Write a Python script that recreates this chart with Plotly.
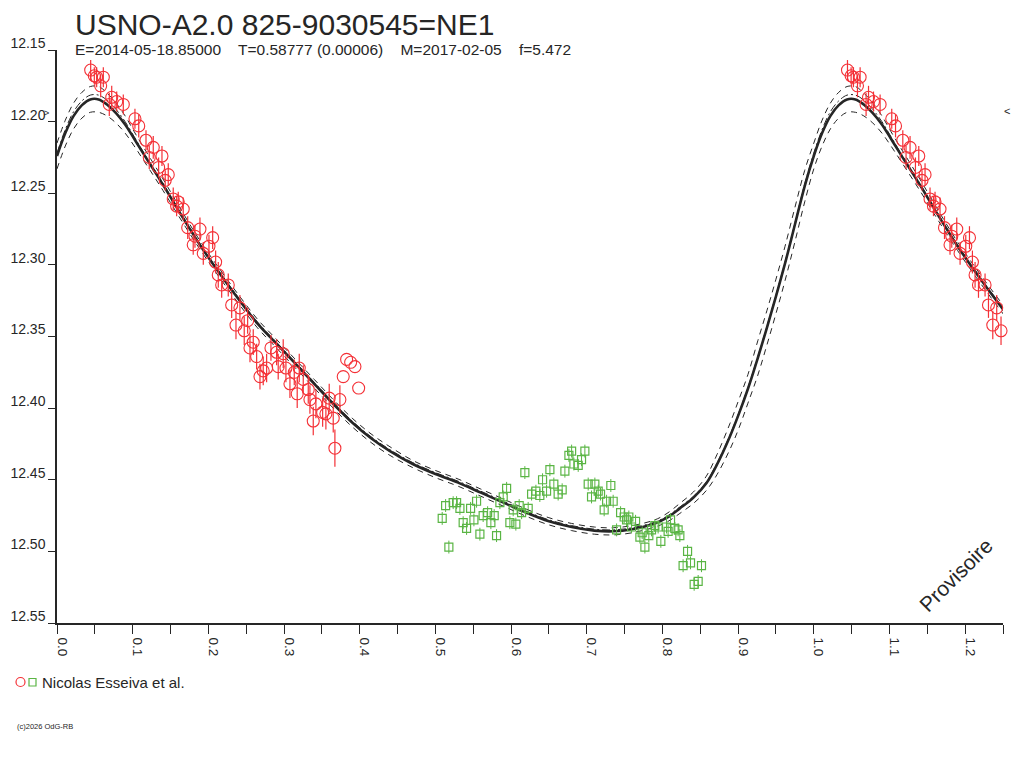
import numpy as np
import plotly.graph_objects as go

# fitted light curve (phase 0..1)
model_phase = [0.000, 0.011, 0.022, 0.033, 0.044, 0.055, 0.066, 0.078, 0.090, 0.102,
               0.115, 0.140, 0.165, 0.190, 0.215, 0.240, 0.265, 0.290, 0.315, 0.340,
               0.365, 0.390, 0.415, 0.440, 0.470, 0.500, 0.530, 0.560, 0.590, 0.620,
               0.650, 0.680, 0.710, 0.735, 0.760, 0.790, 0.806, 0.823, 0.841, 0.858,
               0.872, 0.889, 0.901, 0.913, 0.926, 0.938, 0.950, 0.962, 0.975, 0.988,
               1.000]
model_mag = [12.224, 12.208, 12.196, 12.1885, 12.1845, 12.1845, 12.188, 12.194, 12.202, 12.212,
             12.223, 12.244, 12.266, 12.287, 12.306, 12.324, 12.341, 12.355, 12.369, 12.383,
             12.397, 12.410, 12.421, 12.430, 12.439, 12.446, 12.452, 12.459, 12.466, 12.473,
             12.479, 12.483, 12.4855, 12.486, 12.4845, 12.4805, 12.4765, 12.470, 12.4625, 12.4525,
             12.4395, 12.420, 12.404, 12.3865, 12.365, 12.344, 12.322, 12.299, 12.272, 12.245,
             12.224]
# half width of the dashed envelope around the fit
env_half = [0.009, 0.009, 0.009, 0.009, 0.009, 0.009, 0.008, 0.007, 0.006, 0.005,
            0.0045, 0.004, 0.0035, 0.003, 0.003, 0.003, 0.003, 0.003, 0.003, 0.003,
            0.003, 0.003, 0.003, 0.003, 0.0025, 0.0025, 0.0025, 0.0025, 0.0025, 0.0025,
            0.0025, 0.0025, 0.0025, 0.0025, 0.0025, 0.0025, 0.003, 0.0035, 0.004, 0.005,
            0.007, 0.009, 0.010, 0.010, 0.012, 0.012, 0.012, 0.012, 0.012, 0.011,
            0.009]
# offset of the thin dash-dot fit from the main one
alt_shift = [-0.002, -0.0025, -0.003, -0.003, -0.003, -0.003, -0.003, -0.0025, -0.002, -0.0015,
             -0.001, -0.001, -0.001, -0.001, -0.001, -0.001, -0.001, -0.001, -0.001, -0.001,
             -0.001, -0.001, -0.001, -0.001, -0.001, -0.001, -0.001, -0.001, -0.001, -0.001,
             -0.001, -0.001, -0.001, -0.001, -0.001, -0.001, -0.001, -0.001, -0.001, -0.001,
             -0.001, -0.001, -0.001, -0.001, -0.001, -0.001, -0.001, -0.001, -0.001, -0.0015,
             -0.002]

# Nicolas Esseiva et al. - first set (red circles)
red_phase = [0.0445, 0.0493, 0.0524, 0.0612, 0.0577, 0.0723, 0.0789, 0.0876, 0.0691, 0.1030,
             0.1080, 0.1176, 0.1272, 0.1387, 0.1219, 0.1343, 0.1470, 0.1430, 0.1536, 0.1602,
             0.1668, 0.1581, 0.1727, 0.1889, 0.1823, 0.2057, 0.1800, 0.2008, 0.1933, 0.2096,
             0.2131, 0.2176, 0.2263, 0.2308, 0.2417, 0.2365, 0.2519, 0.2474, 0.2593, 0.2550,
             0.2638, 0.2827, 0.2902, 0.2989, 0.2770, 0.2682, 0.2725, 0.2923, 0.3025, 0.3201,
             0.3135, 0.3254, 0.3078, 0.3320, 0.3174, 0.3342, 0.3421, 0.3597, 0.3738, 0.3510,
             0.3553, 0.3650, 0.3386, 0.3672]
red_mag = [12.164, 12.168, 12.169, 12.169, 12.175, 12.183, 12.186, 12.188, 12.188, 12.198,
           12.203, 12.213, 12.218, 12.224, 12.225, 12.232, 12.237, 12.241, 12.254, 12.256,
           12.261, 12.259, 12.274, 12.275, 12.280, 12.281, 12.286, 12.287, 12.292, 12.298,
           12.307, 12.314, 12.314, 12.328, 12.330, 12.342, 12.339, 12.346, 12.354, 12.358,
           12.364, 12.358, 12.361, 12.362, 12.372, 12.378, 12.374, 12.371, 12.372, 12.372,
           12.375, 12.380, 12.383, 12.387, 12.390, 12.394, 12.397, 12.393, 12.394, 12.403,
           12.404, 12.407, 12.409, 12.428]
red_err = [0.007, 0.006, 0.007, 0.007, 0.008, 0.008, 0.007, 0.007, 0.008, 0.007,
           0.008, 0.007, 0.008, 0.007, 0.008, 0.007, 0.008, 0.007, 0.008, 0.007,
           0.008, 0.007, 0.008, 0.008, 0.008, 0.008, 0.007, 0.008, 0.008, 0.008,
           0.009, 0.009, 0.008, 0.009, 0.009, 0.010, 0.009, 0.010, 0.009, 0.010,
           0.009, 0.009, 0.009, 0.010, 0.010, 0.009, 0.010, 0.009, 0.010, 0.010,
           0.009, 0.010, 0.010, 0.010, 0.010, 0.010, 0.010, 0.010, 0.010, 0.010,
           0.011, 0.010, 0.010, 0.013]
# points of the first set plotted without error bars
red2_phase = [0.3827, 0.3880, 0.3937, 0.3782, 0.3986]
red2_mag = [12.366, 12.368, 12.371, 12.378, 12.386]

# second set (green squares)
green_phase = [0.6800, 0.6975, 0.6764, 0.6931, 0.6830, 0.6887, 0.6182, 0.6513, 0.6711, 0.6416,
               0.6565, 0.5941, 0.7019, 0.7107, 0.7318, 0.6675, 0.6328, 0.6469, 0.6271, 0.6622,
               0.6380, 0.5896, 0.7151, 0.7063, 0.7182, 0.5544, 0.5235, 0.5280, 0.5135, 0.5324,
               0.5852, 0.7262, 0.7349, 0.5465, 0.6107, 0.6226, 0.7230, 0.6028, 0.7447, 0.6139,
               0.5690, 0.5631, 0.5777, 0.7494, 0.7556, 0.5090, 0.5509, 0.5367, 0.7645, 0.5984,
               0.6063, 0.5733, 0.7526, 0.8107, 0.5412, 0.7394, 0.7592, 0.7900, 0.7943, 0.8054,
               0.7856, 0.8164, 0.8075, 0.8207, 0.7732, 0.5588, 0.5808, 0.8230, 0.7702, 0.7820,
               0.7979, 0.5178, 0.7768, 0.8332, 0.8273, 0.8371, 0.8516, 0.8419, 0.8472]
green_mag = [12.430, 12.430, 12.433, 12.436, 12.439, 12.440, 12.445, 12.443, 12.444, 12.450,
             12.453, 12.456, 12.453, 12.453, 12.454, 12.457, 12.458, 12.458, 12.460, 12.460,
             12.461, 12.462, 12.458, 12.462, 12.460, 12.465, 12.466, 12.466, 12.468, 12.470,
             12.466, 12.465, 12.465, 12.470, 12.468, 12.470, 12.471, 12.471, 12.473, 12.473,
             12.473, 12.475, 12.475, 12.476, 12.476, 12.477, 12.478, 12.480, 12.479, 12.480,
             12.481, 12.480, 12.478, 12.478, 12.484, 12.485, 12.483, 12.482, 12.483, 12.483,
             12.485, 12.484, 12.486, 12.485, 12.487, 12.488, 12.489, 12.489, 12.490, 12.489,
             12.493, 12.497, 12.497, 12.500, 12.510, 12.508, 12.510, 12.523, 12.521]
green_err = [0.0045] * len(green_mag)

y_ticks = [12.15, 12.20, 12.25, 12.30, 12.35, 12.40, 12.45, 12.50, 12.55]

RED = "#f43036"
GREEN = "#5ab544"
INK = "#262626"
FONT = "Liberation Sans, Arial, sans-serif"


def fold(ph, vals, upto=1.25):
    # repeat the phase-folded data after phase 1, as the original plot does
    ph = np.asarray(ph)
    vals = np.asarray(vals)
    keep = ph + 1 <= upto
    return np.concatenate([ph, ph[keep] + 1]), np.concatenate([vals, vals[keep]])


main = np.array(model_mag)
half = np.array(env_half)
curve_x, main_y = fold(model_phase[:-1], main[:-1], 1.3)
_, up_y = fold(model_phase[:-1], (main - half)[:-1], 1.3)
_, low_y = fold(model_phase[:-1], (main + half)[:-1], 1.3)
_, alt_y = fold(model_phase[:-1], (main + np.array(alt_shift))[:-1], 1.3)

fig = go.Figure()
for yy, dash in [(up_y, "6px,5px"), (low_y, "6px,5px"), (alt_y, "8px,3px,2px,3px")]:
    fig.add_trace(go.Scatter(x=curve_x, y=yy, mode="lines",
                             line=dict(color=INK, width=1, dash=dash, shape="spline", smoothing=1.0),
                             hoverinfo="skip", showlegend=False))
fig.add_trace(go.Scatter(x=curve_x, y=main_y, mode="lines",
                         line=dict(color=INK, width=2.6, shape="spline", smoothing=1.0),
                         showlegend=False))

rx, ry = fold(red_phase, red_mag)
_, re = fold(red_phase, red_err)
fig.add_trace(go.Scatter(x=rx, y=ry, mode="markers", cliponaxis=False,
                         marker=dict(symbol="circle-open", size=12, color=RED, line=dict(width=1.1)),
                         error_y=dict(type="data", array=re, color=RED, thickness=1.2, width=0),
                         showlegend=False))
fig.add_trace(go.Scatter(x=red2_phase, y=red2_mag, mode="markers",
                         marker=dict(symbol="circle-open", size=12, color=RED, line=dict(width=1.1)),
                         showlegend=False))
fig.add_trace(go.Scatter(x=green_phase, y=green_mag, mode="markers",
                         marker=dict(symbol="square-open", size=8, color=GREEN, line=dict(width=1.2)),
                         error_y=dict(type="data", array=green_err, color=GREEN, thickness=1, width=0),
                         showlegend=False))

fig.update_xaxes(range=[0, 1.25], dtick=0.1, tick0=0, tickformat=".1f", tickangle=90,
                 ticks="outside", ticklen=9, tickcolor=INK, showline=True, linecolor=INK, linewidth=1.5,
                 minor=dict(dtick=0.05, ticks="outside", ticklen=9, tickcolor=INK),
                 ticklabelshift=5, ticklabelstandoff=1, automargin=False,
                 showgrid=False, zeroline=False, tickfont=dict(family=FONT, size=13.5, color=INK))
fig.update_yaxes(range=[12.55, 12.15], tickvals=y_ticks, ticktext=["%.2f" % v for v in y_ticks],
                 ticks="outside", ticklen=7, tickcolor=INK, showline=True, linecolor=INK, linewidth=1.5,
                 ticklabelshift=7, ticklabelstandoff=0, automargin=False,
                 showgrid=False, zeroline=False, tickfont=dict(family=FONT, size=14, color=INK))


def px_x(x):
    return (x - 57) / 946.0


def px_y(y):
    return (623 - y) / 573.0


def note(text, x, y, size, angle=0, anchor="left"):
    fig.add_annotation(text=text, xref="paper", yref="paper", x=px_x(x), y=px_y(y),
                       xanchor=anchor, yanchor="middle", showarrow=False, textangle=angle,
                       font=dict(family=FONT, size=size, color=INK))


note("USNO-A2.0 825-9030545=NE1", 73, 25, 30)
note("E=2014-05-18.85000    T=0.58777 (0.00006)    M=2017-02-05    f=5.472", 73, 49, 15.5)
note("Nicolas Esseiva et al.", 40, 682, 15)
note("(c)2026 OdG-RB", 15, 726, 7.5)
note("Provisoire", 955, 575, 21, angle=-45, anchor="center")
note("&gt;", 46, 113, 9, anchor="center")
note("&lt;", 1007, 111, 11, anchor="center")

# legend symbols
fig.add_shape(type="circle", xref="paper", yref="paper", x0=px_x(16), x1=px_x(25),
              y0=px_y(686.5), y1=px_y(677.5), line=dict(color=RED, width=1.2))
fig.add_shape(type="rect", xref="paper", yref="paper", x0=px_x(29), x1=px_x(36),
              y0=px_y(686), y1=px_y(678.5), line=dict(color=GREEN, width=1.2))

fig.update_layout(width=1016, height=760, autosize=False,
                  margin=dict(l=49, r=21, t=42, b=145, pad=0),
                  paper_bgcolor="white", plot_bgcolor="white",
                  font=dict(family=FONT, color=INK), showlegend=False)

fig.write_html("out.html", config={"displayModeBar": False})
